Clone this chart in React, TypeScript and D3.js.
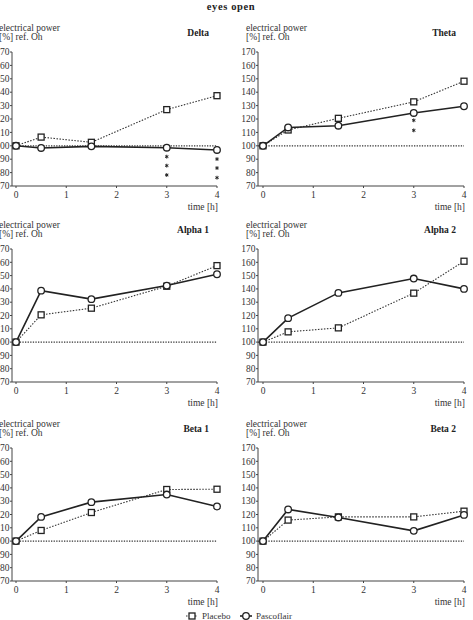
import React from "react";
import * as d3 from "d3";

const times = [0, 0.5, 1.5, 3, 4];
const xTicks = [0, 1, 2, 3, 4];
const yTicks = [70, 80, 90, 100, 110, 120, 130, 140, 150, 160, 170];
const panelTitles = ["Delta", "Theta", "Alpha 1", "Alpha 2", "Beta 1", "Beta 2"];

const placeboDelta = [100, 106.5, 102.6, 127, 137.4];
const pascoDelta = [100, 98.4, 99.6, 98.6, 96.9];
const placeboTheta = [100, 111.8, 120.5, 132.8, 148.2];
const pascoTheta = [100, 113.7, 115, 124.5, 129.5];
const placeboAlpha1 = [100, 120.5, 125.5, 142, 157.5];
const pascoAlpha1 = [100, 138.7, 132.3, 142.5, 151];
const placeboAlpha2 = [100, 107.7, 110.7, 136.8, 160.8];
const pascoAlpha2 = [100, 118, 137, 147.8, 140];
const placeboBeta1 = [100, 108, 121.5, 138.8, 139];
const pascoBeta1 = [100, 118.2, 129.3, 135, 126];
const placeboBeta2 = [100, 115.8, 118.2, 118.2, 122.5];
const pascoBeta2 = [100, 123.8, 117.8, 107.7, 119.7];

// significance asterisks: [time, value]
const starsDelta: [number, number][] = [[3, 91.9], [3, 85.2], [3, 78.2], [4, 90.1], [4, 83.4], [4, 76.2]];
const starsTheta: [number, number][] = [[3, 119], [3, 111.5]];

const placeboSeries = [placeboDelta, placeboTheta, placeboAlpha1, placeboAlpha2, placeboBeta1, placeboBeta2];
const pascoSeries = [pascoDelta, pascoTheta, pascoAlpha1, pascoAlpha2, pascoBeta1, pascoBeta2];
const starSeries: [number, number][][] = [starsDelta, starsTheta, [], [], [], []];

const FONT = "'Liberation Serif', 'Times New Roman', serif";
const TXT = "#333";

const colX = [
  { axis: 12, x0: 16, x1: 217, labelX: -1 },
  { axis: 258, x0: 263, x1: 464, labelX: 246 },
];
const rowY = [
  { top: 52, bottom: 186 },
  { top: 249, bottom: 382 },
  { top: 448, bottom: 581 },
];

function Panel({ idx }: { idx: number }) {
  const col = colX[idx % 2];
  const row = rowY[Math.floor(idx / 2)];
  const x = d3.scaleLinear().domain([0, 4]).range([col.x0, col.x1]);
  const y = d3.scaleLinear().domain([70, 170]).range([row.bottom, row.top]);
  const line = d3
    .line<number>()
    .x((_, i) => x(times[i]))
    .y((d) => y(d));
  const plac = placeboSeries[idx];
  const pasc = pascoSeries[idx];
  const star = d3.symbol(d3.symbolAsterisk, 10)();
  return (
    <g fontFamily={FONT}>
      <text x={col.labelX} y={row.top - 21} fontSize={9.5} fill={TXT}>electrical power</text>
      <text x={col.labelX} y={row.top - 12} fontSize={9.5} fill={TXT}>[%] ref. Oh</text>
      <text x={col.x1 - 8} y={row.top - 16} fontSize={9.5} fontWeight="bold" textAnchor="end" fill="#222">
        {panelTitles[idx]}
      </text>
      {/* y axis */}
      <line x1={col.axis} x2={col.axis} y1={y(170)} y2={y(70)} stroke="#444" strokeWidth={1} />
      {yTicks.map((t) => (
        <g key={t}>
          <line x1={col.axis - 2} x2={col.axis} y1={y(t)} y2={y(t)} stroke="#444" />
          <text x={col.axis - 2.5} y={y(t) + 3.2} fontSize={9.5} textAnchor="end" fill={TXT}>{t}</text>
        </g>
      ))}
      {/* x axis */}
      <line x1={col.axis} x2={x(4)} y1={row.bottom} y2={row.bottom} stroke="#444" />
      {xTicks.map((t) => (
        <g key={t}>
          <line x1={x(t)} x2={x(t)} y1={row.bottom} y2={row.bottom + 2} stroke="#444" />
          <text x={x(t)} y={row.bottom + 12} fontSize={9.5} textAnchor="middle" fill={TXT}>{t}</text>
        </g>
      ))}
      <text x={col.x1 + 1} y={row.bottom + 24} fontSize={9.5} textAnchor="end" fill={TXT}>time [h]</text>
      {/* reference 100 line */}
      <line x1={col.axis} x2={x(4)} y1={y(100)} y2={y(100)} stroke="#333" strokeWidth={1.2} strokeDasharray="1.3,1.3" />
      {/* placebo */}
      <path d={line(plac) || ""} fill="none" stroke="#333" strokeWidth={1.1} strokeDasharray="1.5,1.5" />
      {/* pascoflair */}
      <path d={line(pasc) || ""} fill="none" stroke="#222" strokeWidth={1.6} />
      {plac.map((v, i) => (
        <rect key={"s" + i} x={x(times[i]) - 3} y={y(v) - 3} width={6} height={6} fill="#fff" stroke="#222" strokeWidth={1.3} />
      ))}
      {pasc.map((v, i) => (
        <circle key={"c" + i} cx={x(times[i])} cy={y(v)} r={3.3} fill="#fff" stroke="#222" strokeWidth={1.3} />
      ))}
      {starSeries[idx].map(([t, v], i) => (
        <path key={"st" + i} d={star || ""} transform={`translate(${x(t)},${y(v)})`} fill="none" stroke="#222" strokeWidth={1} />
      ))}
    </g>
  );
}

export default function App() {
  return (
    <svg width={473} height={620} style={{ position: "absolute", left: 0, top: 0, background: "#fff" }}>
      <rect width={473} height={620} fill="#fff" />
      <text x={231} y={10} fontFamily={FONT} fontSize={10.5} fontWeight="bold" textAnchor="middle" letterSpacing={0.6} fill="#222">
        eyes open
      </text>
      {panelTitles.map((_, i) => (
        <Panel key={i} idx={i} />
      ))}
      <g fontFamily={FONT} fontSize={9} fill={TXT}>
        <line x1={186} x2={198} y1={616} y2={616} stroke="#333" strokeDasharray="1.5,1.5" strokeWidth={1.1} />
        <rect x={189} y={613} width={6} height={6} fill="#fff" stroke="#222" strokeWidth={1.3} />
        <text x={202} y={618.5}>Placebo</text>
        <line x1={240} x2={252} y1={616} y2={616} stroke="#222" strokeWidth={1.6} />
        <circle cx={246} cy={616} r={3.3} fill="#fff" stroke="#222" strokeWidth={1.3} />
        <text x={256} y={618.5}>Pascoflair</text>
      </g>
    </svg>
  );
}
